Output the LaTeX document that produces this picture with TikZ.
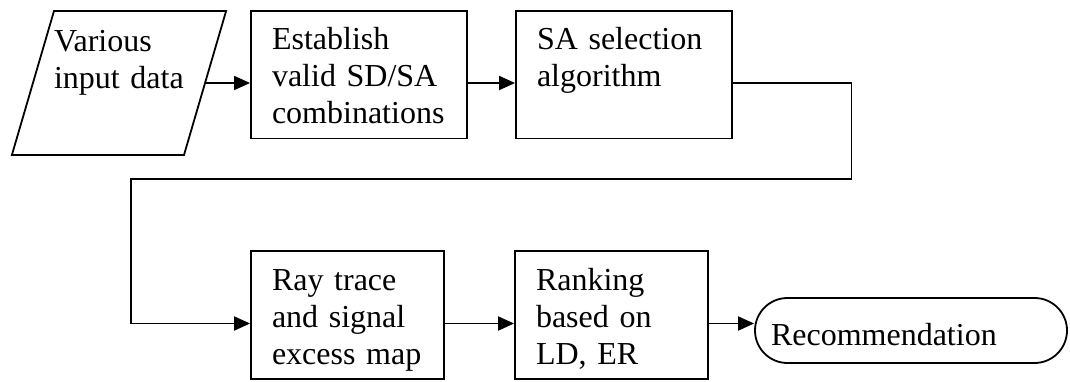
\documentclass[tikz,border=0pt]{standalone}
\usepackage{fontspec}
\setmainfont{Liberation Serif}
\usetikzlibrary{arrows.meta,shapes.geometric}
\def\boxfont{\fontsize{32}{37}\selectfont}
\tikzset{
  procbox/.style={draw, line width=1.8pt, rectangle, align=left, font=\boxfont,
    text width=#1, inner xsep=21pt, inner ysep=0pt, text height=39pt, text depth=88.5pt},
  iobox/.style={draw, line width=1.8pt, trapezium, trapezium left angle=73.7,
    trapezium right angle=106.3, align=left, font=\boxfont, text width=130pt,
    inner xsep=0pt, inner ysep=0pt, text height=41pt, text depth=103pt},
  termbox/.style={draw, line width=1.8pt, rectangle, rounded corners=32.5pt, align=left,
    font=\boxfont, text width=280pt, inner xsep=16pt, inner ysep=0pt,
    text height=47pt, text depth=18pt},
  arr/.style={line width=1.8pt, -{Triangle[length=16pt,width=14pt]}}
}
\begin{document}
\begin{tikzpicture}[x=1pt,y=1pt]
		%%%%% START %%%%%
		\useasboundingbox (0,0) rectangle (1070,381);
		
		\node[iobox] (input) at (119,298) {Various\\input data};
		\node[procbox=174pt] (estab) at (359,306.25) {Establish\\valid SD/SA\\combinations};
		\node[procbox=174pt] (select) at (624,306.25) {SA selection\\algorithm};
		
		\node[procbox=151pt] (raytrace) at (347.5,66) {Ray trace\\and signal\\excess map};
		\node[procbox=151pt] (rank) at (611.5,66) {Ranking\\based on\\LD, ER};
		\node[termbox] (rec) at (911,50.5) {Recommendation};
		
		\coordinate (lowrow) at (0,57.5);
		\coordinate (turnR) at (851.5,202);
		\coordinate (turnL) at (131,202);
		
		\draw[arr] (input.east) -- (estab.west |- input.east);
		\draw[arr] (estab.east |- input.east) -- (select.west |- input.east);
		
		\draw[arr] (select.east |- input.east) -- (turnR |- input.east) -- (turnR)
			-- (turnL) -- (turnL |- lowrow) -- (raytrace.west |- lowrow);
		
		\draw[arr] (raytrace.east |- lowrow) -- (rank.west |- lowrow);
		\draw[arr] (rank.east |- lowrow) -- (rec.west |- lowrow);
		
		%%%%% END %%%%%
	\end{tikzpicture}
\end{document}
